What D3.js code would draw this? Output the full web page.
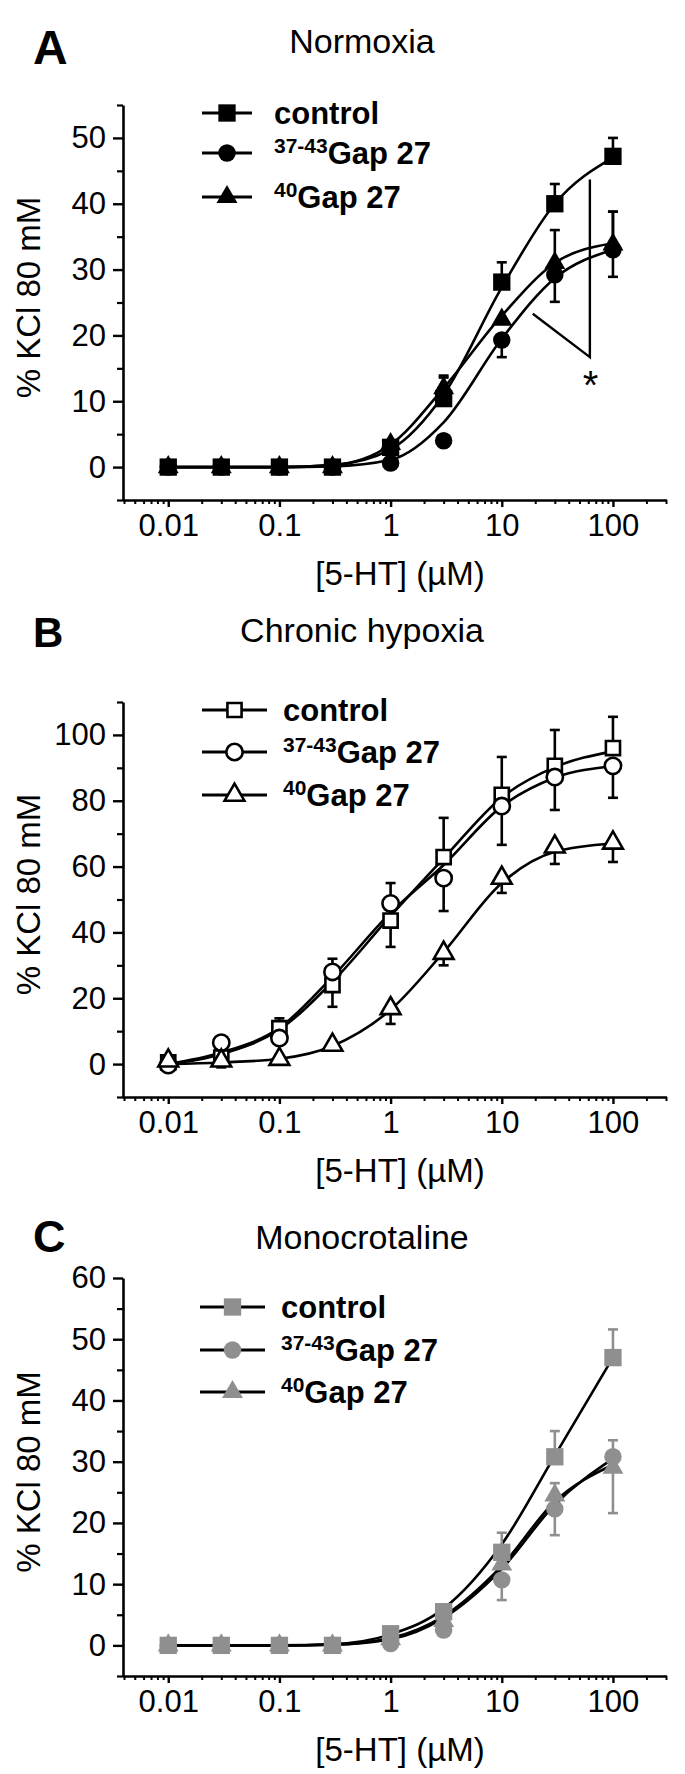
<!DOCTYPE html>
<html>
<head>
<meta charset="utf-8">
<script src="https://cdn.jsdelivr.net/npm/d3@7"></script>
<style>
  html, body { margin: 0; padding: 0; background: #fff; }
  svg { display: block; }
</style>
</head>
<body>
<svg id="chart" width="685" height="1774"></svg>
<script>
// ---------------- DATA ----------------
const conc = [0.01, 0.03, 0.1, 0.3, 1, 3, 10, 30, 100];
const xDomain = [0.004, 300];
const xTicks = [0.01, 0.1, 1, 10, 100];
const xTickLabels = ["0.01", "0.1", "1", "10", "100"];
const legendSup = ["", "37-43", "40"];
const legendMain = ["control", "Gap 27", "Gap 27"];
const panelLetters = ["A", "B", "C"];
const panelTitles = ["Normoxia", "Chronic hypoxia", "Monocrotaline"];
const xTitle = "[5-HT] (\u00B5M)";
const yTitle = "% KCl 80 mM";

// Panel A - Normoxia
const aYDomain = [-5, 55];
const aYTicks = [0, 10, 20, 30, 40, 50];
const aYMinor = [-5, 5, 15, 25, 35, 45, 55];
const aControl = [0, 0, 0, 0, 3, 10.4, 28.1, 40, 47.2];
const aControlErrHi = [0, 0, 0, 0, 0, 3.2, 3, 3, 2.8];
const aControlErrLo = [0, 0, 0, 0, 0, 0, 0, 0, 0];
const aGap3743 = [0, 0, 0, 0, 0.6, 4, 19.3, 29.2, 33];
const aGap3743ErrHi = [0, 0, 0, 0, 0, 0, 0, 0, 5.8];
const aGap3743ErrLo = [0, 0, 0, 0, 0, 0, 2.6, 4.1, 4.1];
const aGap40 = [0, 0, 0, 0, 3.5, 12, 22.4, 31, 33.8];
const aGap40ErrHi = [0, 0, 0, 0, 0, 1.9, 0, 5, 5];
const aGap40ErrLo = [0, 0, 0, 0, 0, 0, 0, 0, 0];
const aControlFit = [0, 0, 0, 0.3, 2.7, 11, 27.3, 40, 47];
const aGap3743Fit = [0, 0, 0, 0.1, 1.1, 6.8, 19.5, 28.7, 33];
const aGap40Fit = [0, 0, 0, 0.3, 3.4, 12, 23, 31, 34];
const aBracket = [[62, 43.7], [62, 16.7], [19, 23.3]];
const aStar = [63, 13.7];

// Panel B - Chronic hypoxia
const bYDomain = [-10, 110];
const bYTicks = [0, 20, 40, 60, 80, 100];
const bYMinor = [-10, 10, 30, 50, 70, 90, 110];
const bControl = [0.5, 2, 10.9, 24, 43.6, 62.9, 81.8, 90.6, 96];
const bControlErrHi = [0, 0, 3, 0, 0, 11.9, 11.5, 10.9, 9.5];
const bControlErrLo = [0, 0, 0, 6.6, 8, 0, 0, 0, 0];
const bGap3743 = [-0.3, 6.5, 7.9, 28, 48.8, 56.5, 78.4, 87.2, 90.6];
const bGap3743ErrHi = [0, 0, 0, 4, 6.2, 0, 0, 0, 0];
const bGap3743ErrLo = [0, 0, 0, 0, 0, 10, 11.8, 10, 9.7];
const bGap40 = [1, 1, 1.5, 5.8, 16.9, 33.7, 56.5, 66, 67.2];
const bGap40ErrHi = [0, 0, 0, 0, 0, 0, 0, 0, 0];
const bGap40ErrLo = [0, 2, 1.5, 0, 4.7, 3.7, 4.5, 5.2, 5.8];
const bControlFit = [0, 3, 10.5, 25, 45, 62.5, 81, 90.2, 95];
const bGap3743Fit = [0, 3.5, 11, 26.5, 46, 60.5, 78.3, 87, 90.5];
const bGap40Fit = [0, 0.5, 1.6, 5.5, 16.5, 34, 55, 64.5, 67];

// Panel C - Monocrotaline
const cYDomain = [-5, 60];
const cYTicks = [0, 10, 20, 30, 40, 50, 60];
const cYMinor = [-5, 5, 15, 25, 35, 45, 55];
const cControl = [0, 0, 0, 0, 1.9, 5.5, 15.2, 30.8, 47];
const cControlErrHi = [0, 0, 0, 0, 0, 0, 3.2, 4.2, 4.6];
const cControlErrLo = [0, 0, 0, 0, 0, 0, 0, 0, 0];
const cGap3743 = [0, 0, 0, 0, 0.3, 2.5, 10.7, 22.3, 30.8];
const cGap3743ErrHi = [0, 0, 0, 0, 0, 0, 0, 0, 2.7];
const cGap3743ErrLo = [0, 0, 0, 0, 0, 0, 3.3, 4.3, 0];
const cGap40 = [0, 0, 0, 0, 1, 4, 13.2, 24.5, 29];
const cGap40ErrHi = [0, 0, 0, 0, 0, 0, 0, 2, 0];
const cGap40ErrLo = [0, 0, 0, 0, 0, 0, 0, 0, 7.4];
const cControlFit = [0, 0, 0, 0.2, 1.8, 6, 16.5, 31, 47];
const cGap3743Fit = [0, 0, 0, 0.1, 1, 4.5, 12.5, 23, 30.5];
const cGap40Fit = [0, 0, 0, 0.1, 1.2, 4.8, 13, 23.5, 29.5];

// ---------------- DRAW ----------------
const FONT = "Arial, 'Liberation Sans', Helvetica, sans-serif";
const svg = d3.select("#chart");
const shapes = [d3.symbolSquare, d3.symbolCircle, d3.symbolTriangle];

const panels = [
  { letter: panelLetters[0], title: panelTitles[0], yDomain: aYDomain, yTicks: aYTicks, yMinor: aYMinor,
    top: 105, bottom: 500, titleY: 41, letterSize: 48, letterY: 64,
    legend: { x1: 202, x2: 252, tx: 274, rows: [113, 153, 197] },
    style: "filled",
    series: [
      { v: aControl, hi: aControlErrHi, lo: aControlErrLo, fit: aControlFit },
      { v: aGap3743, hi: aGap3743ErrHi, lo: aGap3743ErrLo, fit: aGap3743Fit },
      { v: aGap40, hi: aGap40ErrHi, lo: aGap40ErrLo, fit: aGap40Fit }
    ],
    bracket: aBracket, star: aStar },
  { letter: panelLetters[1], title: panelTitles[1], yDomain: bYDomain, yTicks: bYTicks, yMinor: bYMinor,
    top: 702, bottom: 1097, titleY: 630, letterSize: 42, letterY: 647,
    legend: { x1: 202, x2: 267, tx: 283, rows: [710, 752, 795] },
    style: "open",
    series: [
      { v: bControl, hi: bControlErrHi, lo: bControlErrLo, fit: bControlFit },
      { v: bGap3743, hi: bGap3743ErrHi, lo: bGap3743ErrLo, fit: bGap3743Fit },
      { v: bGap40, hi: bGap40ErrHi, lo: bGap40ErrLo, fit: bGap40Fit }
    ] },
  { letter: panelLetters[2], title: panelTitles[2], yDomain: cYDomain, yTicks: cYTicks, yMinor: cYMinor,
    top: 1278, bottom: 1676, titleY: 1237, letterSize: 45, letterY: 1252,
    legend: { x1: 200, x2: 265, tx: 281, rows: [1307, 1350, 1392] },
    style: "gray",
    series: [
      { v: cControl, hi: cControlErrHi, lo: cControlErrLo, fit: cControlFit },
      { v: cGap3743, hi: cGap3743ErrHi, lo: cGap3743ErrLo, fit: cGap3743Fit },
      { v: cGap40, hi: cGap40ErrHi, lo: cGap40ErrLo, fit: cGap40Fit }
    ] }
];

const x = d3.scaleLog().domain(xDomain).range([124, 666]);

function minorLogTicks(dom) {
  const out = [];
  for (let e = -3; e <= 3; e++) {
    for (let m = 2; m <= 9; m++) {
      const v = m * Math.pow(10, e);
      if (v >= dom[0] && v <= dom[1]) out.push(v);
    }
  }
  return out;
}

function markerStyle(sel, style) {
  if (style === "filled") sel.attr("fill", "#000").attr("stroke", "none");
  else if (style === "open") sel.attr("fill", "#fff").attr("stroke", "#000").attr("stroke-width", 2.6);
  else sel.attr("fill", "#8f8f8f").attr("stroke", "none");
}

function symbolSize(style, i) {
  if (style === "open") return [200, 210, 170][i];
  return [300, 240, 190][i];
}

panels.forEach(p => {
  const g = svg.append("g");
  const y = d3.scaleLinear().domain(p.yDomain).range([p.bottom, p.top]);
  const xLeft = x.range()[0] - 1;

  // Panel letter and title
  g.append("text").attr("x", 33).attr("y", p.letterY)
    .attr("font-family", FONT).attr("font-size", p.letterSize).attr("font-weight", "bold")
    .attr("fill", "#000").text(p.letter);
  g.append("text").attr("x", 362).attr("y", p.titleY).attr("dy", "0.36em")
    .attr("text-anchor", "middle").attr("font-family", FONT).attr("font-size", 34)
    .attr("fill", "#000").text(p.title);

  // Axes
  const yAxis = d3.axisLeft(y).tickValues(p.yTicks).tickSize(10).tickSizeOuter(0).tickFormat(d3.format("d"));
  const yAx = g.append("g").attr("transform", `translate(${xLeft},0)`).call(yAxis);
  yAx.select(".domain").attr("stroke-width", 2.6);
  yAx.selectAll(".tick line").attr("stroke-width", 2.4);
  yAx.selectAll(".tick text").attr("font-family", FONT).attr("font-size", 31).attr("fill", "#000").attr("x", -17);
  const yMin = g.append("g").attr("transform", `translate(${xLeft},0)`)
    .call(d3.axisLeft(y).tickValues(p.yMinor).tickSize(6).tickSizeOuter(0).tickFormat(""));
  yMin.select(".domain").remove();
  yMin.selectAll(".tick line").attr("stroke-width", 2.2);

  const xAxis = d3.axisBottom(x).tickValues(xTicks).tickSize(7).tickSizeOuter(0)
    .tickFormat((d, i) => xTickLabels[i]);
  const xAx = g.append("g").attr("transform", `translate(0,${p.bottom})`).call(xAxis);
  xAx.select(".domain").attr("stroke-width", 2.6).attr("d", `M${xLeft},0.5H${x.range()[1] + 1}`);
  xAx.selectAll(".tick line").attr("stroke-width", 2.4);
  xAx.selectAll(".tick text").attr("font-family", FONT).attr("font-size", 31).attr("fill", "#000")
    .attr("y", 14).attr("dy", "0.71em");
  const xMin = g.append("g").attr("transform", `translate(0,${p.bottom})`)
    .call(d3.axisBottom(x).tickValues(minorLogTicks(xDomain)).tickSize(4).tickSizeOuter(0).tickFormat(""));
  xMin.select(".domain").remove();
  xMin.selectAll(".tick line").attr("stroke-width", 2);

  // Axis titles
  g.append("text").attr("x", 400).attr("y", p.bottom + 73).attr("dy", "0.36em")
    .attr("text-anchor", "middle").attr("font-family", FONT).attr("font-size", 33).attr("fill", "#000")
    .text(xTitle);
  g.append("text")
    .attr("transform", `translate(28,${(p.top + p.bottom) / 2 - 5}) rotate(-90)`)
    .attr("dy", "0.36em").attr("text-anchor", "middle").attr("font-family", FONT)
    .attr("font-size", 33).attr("fill", "#000").text(yTitle);

  // Fitted curves
  const line = d3.line().x((d, i) => x(conc[i])).y(d => y(d)).curve(d3.curveMonotoneX);
  p.series.forEach(s => {
    g.append("path").attr("d", line(s.fit)).attr("fill", "none")
      .attr("stroke", "#000").attr("stroke-width", 2.6);
  });

  // Bracket and asterisk
  if (p.bracket) {
    const bl = d3.line().x(d => x(d[0])).y(d => y(d[1]));
    g.append("path").attr("d", bl(p.bracket)).attr("fill", "none")
      .attr("stroke", "#000").attr("stroke-width", 2.4);
    g.append("text").attr("x", x(p.star[0])).attr("y", y(p.star[1]) + 22)
      .attr("text-anchor", "middle").attr("font-family", FONT).attr("font-size", 40).text("*");
  }

  // Error bars
  const ebColor = p.style === "gray" ? "#8f8f8f" : "#000";
  p.series.forEach(s => {
    conc.forEach((c, i) => {
      const cx = x(c);
      [[s.hi[i], 1], [s.lo[i], -1]].forEach(([e, dir]) => {
        if (!e) return;
        const ye = y(s.v[i] + dir * e);
        g.append("line").attr("x1", cx).attr("x2", cx).attr("y1", y(s.v[i])).attr("y2", ye)
          .attr("stroke", ebColor).attr("stroke-width", 2.6);
        g.append("line").attr("x1", cx - 5).attr("x2", cx + 5).attr("y1", ye).attr("y2", ye)
          .attr("stroke", ebColor).attr("stroke-width", 2.6);
      });
    });
  });

  // Markers
  p.series.forEach((s, si) => {
    const sym = d3.symbol().type(shapes[si]).size(symbolSize(p.style, si));
    const m = g.append("g").selectAll("path").data(s.v).join("path")
      .attr("transform", (d, i) => `translate(${x(conc[i])},${y(d)})`)
      .attr("d", sym);
    markerStyle(m, p.style);
  });

  // Legend
  const L = p.legend;
  L.rows.forEach((ry, si) => {
    g.append("line").attr("x1", L.x1).attr("x2", L.x2).attr("y1", ry).attr("y2", ry)
      .attr("stroke", "#000").attr("stroke-width", 3);
    const lm = g.append("path").attr("transform", `translate(${(L.x1 + L.x2) / 2},${ry})`)
      .attr("d", d3.symbol().type(shapes[si]).size(symbolSize(p.style, si)));
    markerStyle(lm, p.style);
    const t = g.append("text").attr("x", L.tx).attr("y", ry + 11)
      .attr("font-family", FONT).attr("fill", "#000").attr("font-weight", "bold");
    if (legendSup[si]) {
      t.append("tspan").attr("font-size", 21).attr("dy", -11).text(legendSup[si]);
      t.append("tspan").attr("font-size", 31).attr("dy", 11).text(legendMain[si]);
    } else {
      t.append("tspan").attr("font-size", 31).text(legendMain[si]);
    }
  });
});
</script>
</body>
</html>
